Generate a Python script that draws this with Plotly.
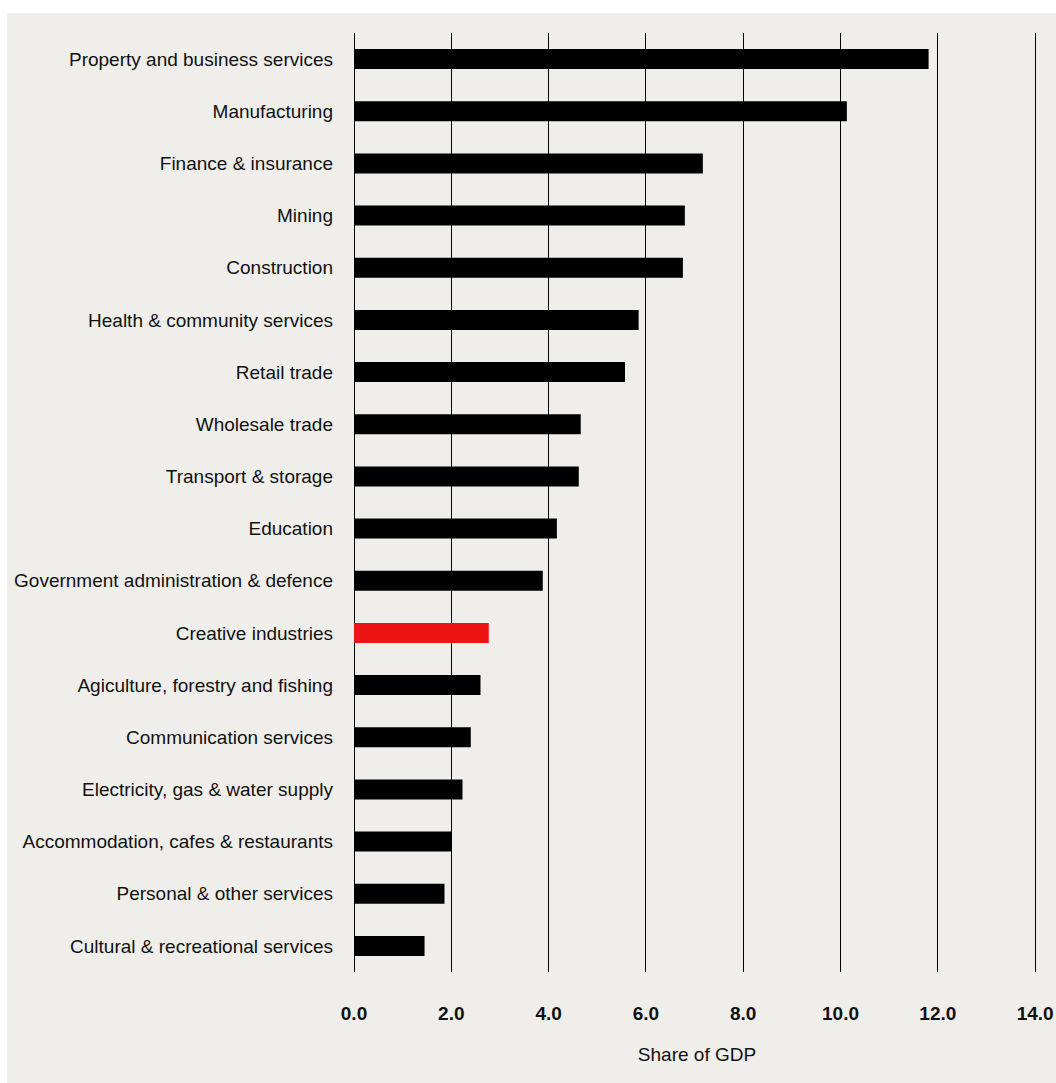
import plotly.graph_objects as go

# Industry share of GDP (%), listed from largest to smallest
industries = [
    "Property and business services",
    "Manufacturing",
    "Finance & insurance",
    "Mining",
    "Construction",
    "Health & community services",
    "Retail trade",
    "Wholesale trade",
    "Transport & storage",
    "Education",
    "Government administration & defence",
    "Creative industries",
    "Agiculture, forestry and fishing",
    "Communication services",
    "Electricity, gas & water supply",
    "Accommodation, cafes & restaurants",
    "Personal & other services",
    "Cultural & recreational services",
]
share_of_gdp = [11.81, 10.13, 7.17, 6.80, 6.76, 5.85, 5.57, 4.66, 4.62, 4.17,
                3.88, 2.77, 2.60, 2.40, 2.23, 2.01, 1.86, 1.45]
highlight = "Creative industries"

x_ticks = [0, 2, 4, 6, 8, 10, 12, 14]

BG = "#efeeea"
FONT = "Arial, Liberation Sans, sans-serif"
TEXT = "#111111"

W, H = 1056, 1083
M_L, M_R, M_T, M_B = 354, 16, 33, 111
X_MAX = 14.1
plot_w = W - M_L - M_R
plot_h = H - M_T - M_B

bar_colors = ["#ee1414" if name == highlight else "#000000" for name in industries]

fig = go.Figure(
    go.Bar(
        x=share_of_gdp,
        y=industries,
        orientation="h",
        marker=dict(color=bar_colors, line=dict(width=0)),
        width=0.383,
        hoverinfo="x+y",
    )
)


def px_to_paper_x(px):
    return (px - M_L) / plot_w


def px_to_paper_y(py):
    return (H - M_B - py) / plot_h


# white margin strips around the grey panel
fig.add_shape(type="rect", xref="paper", yref="paper",
              x0=px_to_paper_x(0), x1=px_to_paper_x(W),
              y0=px_to_paper_y(13), y1=px_to_paper_y(0),
              fillcolor="white", line=dict(width=0), layer="above")
fig.add_shape(type="rect", xref="paper", yref="paper",
              x0=px_to_paper_x(0), x1=px_to_paper_x(7),
              y0=px_to_paper_y(H), y1=px_to_paper_y(0),
              fillcolor="white", line=dict(width=0), layer="above")

fig.update_layout(
    width=W,
    height=H,
    margin=dict(l=M_L, r=M_R, t=M_T, b=M_B, pad=0, autoexpand=False),
    paper_bgcolor=BG,
    plot_bgcolor=BG,
    showlegend=False,
    font=dict(family=FONT, size=19, color=TEXT),
)

fig.update_xaxes(
    range=[0, X_MAX],
    tickvals=x_ticks,
    tickformat=".1f",
    showgrid=True,
    gridcolor="#000000",
    gridwidth=1,
    zeroline=True,
    zerolinecolor="#000000",
    zerolinewidth=1,
    showline=False,
    ticks="",
    tickfont=dict(family=FONT, size=19, color=TEXT, weight="bold"),
    ticklabelstandoff=28,
    title=dict(text="Share of GDP", font=dict(family=FONT, size=19, color=TEXT),
               standoff=24),
    automargin=False,
    fixedrange=True,
)

fig.update_yaxes(
    categoryorder="array",
    categoryarray=industries,
    autorange="reversed",
    showgrid=False,
    zeroline=False,
    showline=False,
    ticks="",
    ticklabelstandoff=20,
    tickfont=dict(family=FONT, size=19, color=TEXT),
    automargin=False,
    fixedrange=True,
)

fig.write_html("out.html")
